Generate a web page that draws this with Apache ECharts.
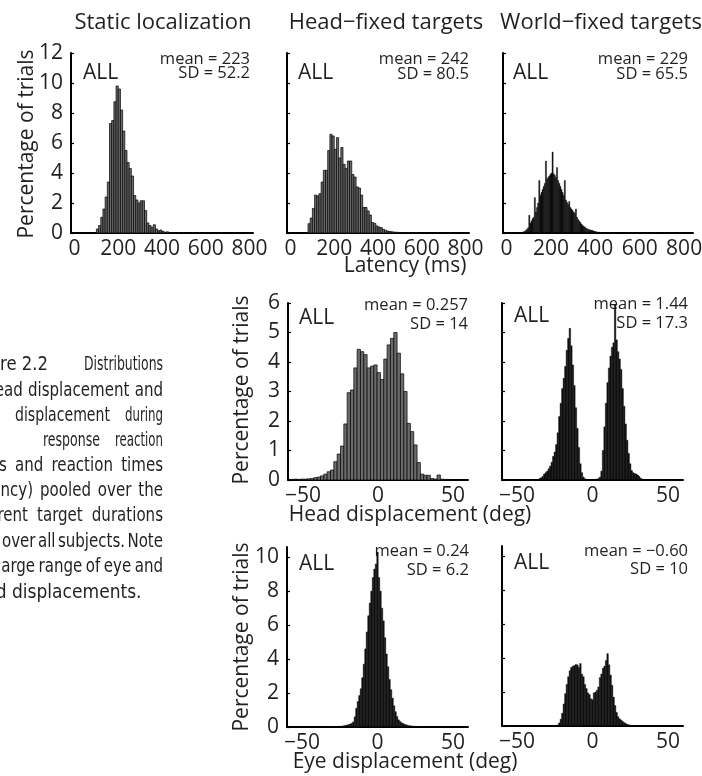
<!DOCTYPE html>
<html>
<head>
<meta charset="utf-8">
<script src="https://cdn.jsdelivr.net/npm/echarts@6/dist/echarts.min.js"></script>
<style>
  html, body { margin: 0; padding: 0; background: #fff; }
  #chart { width: 702px; height: 776px; }
</style>
</head>
<body>
<div id="chart"></div>
<script>
// ---------- tick values ----------
const latencyTicks = [0, 200, 400, 600, 800];
const displacementTicks = [-50, 0, 50];
const pctTicksTop = [0, 2, 4, 6, 8, 10, 12];
const pctTicksMid = [0, 1, 2, 3, 4, 5, 6];
const pctTicksBottom = [0, 2, 4, 6, 8, 10];

// ---------- histograms: percentage of trials per bin ----------
// Static localization, latency (ms), 10 ms bins, first bin centre 105 ms
const staticLatencyStart = 105, staticLatencyBin = 10;
const staticLatencyPct = [0.27, 0.5, 1.05, 1.6, 2.4, 3.4, 7.3, 7.5, 8.75, 9.8, 9.6, 8.2, 6.8, 5.5, 4.7, 4.3, 3.8, 2.5, 2.2, 2.0,
  2.15, 2.15, 1.5, 0.67, 0.5, 0.38, 0.55, 0.27, 0.15, 0.2, 0.1, 0.05, 0.08, 0.03, 0.02, 0.03, 0, 0.02, 0.01, 0.02,
  0, 0.01, 0, 0, 0.01, 0, 0, 0, 0, 0.03];

// Head-fixed targets, latency (ms), 10 ms bins, first bin centre 85 ms
const headFixedLatencyStart = 85, headFixedLatencyBin = 10;
const headFixedLatencyPct = [0.62, 1.0, 1.64, 2.53, 2.47, 2.62, 3.4, 4.18, 4.18, 5.5, 6.58, 6.47, 5.58, 6.36, 5.0, 5.7, 4.58, 4.3, 4.8, 4.8,
  3.9, 3.73, 3.07, 3.0, 2.53, 1.7, 1.7, 1.47, 1.2, 0.7, 0.64, 0.47, 0.4, 0.36, 0.24, 0.18, 0.13, 0.1, 0.08, 0.06,
  0.05, 0.04, 0.03, 0.03, 0.02, 0.02, 0.02, 0.01, 0.01, 0.02, 0.01, 0, 0.01];

// World-fixed targets, latency (ms), 5 ms bins, first bin centre 72.5 ms
const worldFixedLatencyStart = 72.5, worldFixedLatencyBin = 5;
const worldFixedLatencyPct = [0.05, 0.08, 0.12, 0.18, 0.25, 0.35, 1.18, 0.65, 0.8, 0.95, 1.05, 2.36, 1.4, 1.7, 2.0, 3.5, 2.5, 2.7, 2.9, 3.1,
  3.3, 4.8, 3.6, 3.7, 3.8, 3.9, 4.0, 5.4, 3.95, 3.85, 3.7, 4.36, 3.5, 3.3, 3.1, 2.9, 2.7, 2.5, 3.5, 2.2,
  2.05, 1.9, 2.1, 1.7, 1.6, 1.5, 1.4, 1.3, 1.6, 1.05, 0.9, 0.8, 0.7, 0.6, 0.5, 0.45, 0.4, 0.33, 0.28, 0.25,
  0.22, 0.2, 0.18, 0.16, 0.13, 0.11, 0.09, 0.07, 0.06, 0.05, 0.04, 0.03, 0.03, 0.02, 0.02];

// Head-fixed targets, head displacement (deg), 2.22 deg bins, first bin centre -57.2 deg
const headFixedHeadStart = -57.2, headFixedHeadBin = 2.22;
const headFixedHeadPct = [0.02, 0.03, 0.02, 0.03, 0.03, 0.04, 0.05, 0.08, 0.1, 0.14,
  0.2, 0.28, 0.34, 0.62, 0.88, 1.15, 1.9, 2.96, 3.05, 3.8, 4.43, 4.35, 4.25, 3.8, 3.86, 3.9, 3.64, 3.41, 4.1, 4.58,
  4.8, 5.0, 4.3, 3.6, 3.0, 1.92, 1.64, 1.19, 0.59, 0.2, 0.16, 0.16,
  0.05, 0.03, 0.17, 0.03, 0.02, 0.02];

// World-fixed targets, head displacement (deg), 1 deg bins, first bin centre -36 deg
const worldFixedHeadStart = -36, worldFixedHeadBin = 1;
const worldFixedHeadPct = [0.02, 0.05, 0.08, 0.12, 0.2, 0.25, 0.3, 0.38, 0.47, 0.6, 0.8, 0.95, 1.2, 1.6, 2.15, 2.6, 3.1, 3.45, 3.85, 4.4,
  4.8, 5.14, 4.55, 3.9, 3.2, 2.45, 1.75, 1.1, 0.55, 0.25, 0.1, 0.04, 0.02, 0.01, 0.02, 0.01, 0.02, 0.01, 0.02, 0.03,
  0.05, 0.1, 0.3, 1.0, 1.8, 2.6, 3.3, 3.8, 4.2, 4.5, 4.65, 5.93, 4.75, 4.35, 4.1, 3.75, 3.1, 2.5, 1.9, 1.35,
  0.9, 0.55, 0.32, 0.25, 0.22, 0.2, 0.17, 0.12, 0.06, 0.03, 0.02];

// Head-fixed targets, eye displacement (deg), 1 deg bins, first bin centre -30 deg
const headFixedEyeStart = -30, headFixedEyeBin = 1;
const headFixedEyePct = [0.02, 0.02, 0.03, 0.03, 0.04, 0.04, 0.05, 0.06, 0.08, 0.1, 0.12, 0.15, 0.18, 0.22, 0.3,
  0.6, 1.1, 1.5, 1.85, 2.25, 2.9, 3.7, 4.6, 5.6, 6.55, 7.3, 8.0, 8.8, 9.3, 9.6, 10.3, 8.8, 8.0, 7.0, 6.25,
  5.26, 4.3, 3.55, 2.8, 2.2, 1.7, 1.25, 0.9, 0.62, 0.42, 0.33, 0.25, 0.2,
  0.16, 0.13, 0.1, 0.08, 0.07, 0.06, 0.05, 0.04, 0.03, 0.03, 0.02, 0.02, 0.02];

// World-fixed targets, eye displacement (deg), 1 deg bins, first bin centre -26 deg
const worldFixedEyeStart = -26, worldFixedEyeBin = 1;
const worldFixedEyePct = [0.02, 0.03, 0.04, 0.06, 0.18, 0.4, 0.75, 1.3, 1.9, 2.45, 2.9, 3.25, 3.45, 3.52, 3.56, 3.62, 3.6, 3.45, 3.68, 3.05,
  2.9, 2.45, 2.2, 1.95, 1.85, 1.6, 1.55, 1.95, 2.0, 2.1, 2.3, 2.86, 3.06, 3.4, 3.52, 3.85, 4.26, 3.6, 3.0, 2.4,
  1.7, 1.2, 0.8, 0.55, 0.42, 0.35, 0.27, 0.2, 0.15, 0.1, 0.07, 0.05, 0.03, 0.02];

// ---------- texts ----------
const columnTitles = ['Static localization', 'Head\u2212fixed targets', 'World\u2212fixed targets'];
const yAxisTitle = 'Percentage of trials';
const xAxisTitles = ['Latency (ms)', 'Head displacement (deg)', 'Eye displacement (deg)'];
const poolLabel = 'ALL';
const statMeans = ['mean = 223', 'mean = 242', 'mean = 229', 'mean = 0.257', 'mean = 1.44', 'mean = 0.24', 'mean = \u22120.60'];
const statSDs = ['SD = 52.2', 'SD = 80.5', 'SD = 65.5', 'SD = 14', 'SD = 17.3', 'SD = 6.2', 'SD = 10'];
const captionLines = [
  ['Figure 2.2', 'Distributions'],
  ['head', 'displacement', 'and'],
  ['displacement', 'during'],
  ['response', 'reaction'],
  ['times', 'and', 'reaction', 'times'],
  ['(latency)', 'pooled', 'over', 'the'],
  ['different', 'target', 'durations'],
  ['and', 'over', 'all', 'subjects.', 'Note'],
  ['the', 'large', 'range', 'of', 'eye', 'and'],
  ['head', 'displacements.']
];

// ---------- styling & layout ----------
const FONT = '"Open Sans", "Noto Sans", sans-serif';
const CAPTION_FONT = '19px "Liberation Sans Narrow", "DejaVu Sans Condensed", "Liberation Sans", sans-serif';
const INK = '#231f20';
const GRAY_BARS = { fill: '#6b6b6b', stroke: '#000', lineWidth: 0.7 };
const DARK_BARS = { fill: '#141414', stroke: '#000', lineWidth: 0.4 };

const panels = [
  { box: { left: 71, top: 53, width: 182, height: 180 }, x: [-16, 816], xTicks: latencyTicks, y: [0, 12], yTicks: pctTicksTop, yLabels: true,
    start: staticLatencyStart, bin: staticLatencyBin, values: staticLatencyPct, bars: GRAY_BARS },
  { box: { left: 287, top: 53, width: 182, height: 180 }, x: [-16, 816], xTicks: latencyTicks, y: [0, 12], yTicks: pctTicksTop, yLabels: false,
    start: headFixedLatencyStart, bin: headFixedLatencyBin, values: headFixedLatencyPct, bars: GRAY_BARS },
  { box: { left: 503, top: 53, width: 190, height: 180 }, x: [-16, 840], xTicks: latencyTicks, y: [0, 12], yTicks: pctTicksTop, yLabels: false,
    start: worldFixedLatencyStart, bin: worldFixedLatencyBin, values: worldFixedLatencyPct, bars: DARK_BARS },
  { box: { left: 288, top: 303, width: 180, height: 177 }, x: [-60, 60], xTicks: displacementTicks, y: [0, 6], yTicks: pctTicksMid, yLabels: true,
    start: headFixedHeadStart, bin: headFixedHeadBin, values: headFixedHeadPct, bars: GRAY_BARS },
  { box: { left: 502, top: 303, width: 181, height: 177 }, x: [-60, 60], xTicks: displacementTicks, y: [0, 6], yTicks: pctTicksMid, yLabels: false,
    start: worldFixedHeadStart, bin: worldFixedHeadBin, values: worldFixedHeadPct, bars: DARK_BARS },
  { box: { left: 287, top: 547, width: 181, height: 180 }, x: [-60, 60], xTicks: displacementTicks, y: [0, 10.6], yTicks: pctTicksBottom, yLabels: true,
    start: headFixedEyeStart, bin: headFixedEyeBin, values: headFixedEyePct, bars: DARK_BARS },
  { box: { left: 502, top: 546, width: 181, height: 180 }, x: [-60, 60], xTicks: displacementTicks, y: [0, 10.6], yTicks: pctTicksBottom, yLabels: false,
    start: worldFixedEyeStart, bin: worldFixedEyeBin, values: worldFixedEyePct, bars: DARK_BARS }
];

const minusSign = v => String(v).replace('-', '\u2212');

const grids = panels.map(p => Object.assign({ containLabel: false, outerBoundsMode: 'none' }, p.box));

const xAxes = panels.map((p, i) => ({
  type: 'value', gridIndex: i, min: p.x[0], max: p.x[1],
  axisLine: { show: true, onZero: false, lineStyle: { color: '#000', width: 2 } },
  axisTick: { show: false },
  splitLine: { show: false },
  axisLabel: {
    show: true, customValues: p.xTicks, color: INK, fontSize: 21, fontFamily: FONT, margin: 6,
    showMinLabel: true, showMaxLabel: true, hideOverlap: false, formatter: minusSign
  }
}));

const yAxes = panels.map((p, i) => ({
  type: 'value', gridIndex: i, min: p.y[0], max: p.y[1],
  axisLine: { show: true, onZero: false, lineStyle: { color: '#000', width: 2 } },
  axisTick: { show: true, inside: true, length: 3, customValues: p.yTicks, lineStyle: { color: '#000', width: 1.2 } },
  splitLine: { show: false },
  axisLabel: {
    show: p.yLabels, customValues: p.yTicks, color: INK, fontSize: 21, fontFamily: FONT, margin: 8,
    showMinLabel: true, showMaxLabel: true, hideOverlap: false
  }
}));

// one rectangle per histogram bin, edges placed through the axis scales
const series = panels.map((p, i) => ({
  type: 'custom', xAxisIndex: i, yAxisIndex: i, clip: true, silent: true,
  data: p.values.map((v, k) => [p.start + k * p.bin, v]),
  encode: { x: 0, y: 1 },
  renderItem(params, api) {
    const c = api.value(0), v = api.value(1);
    if (!(v > 0)) return null;
    const tl = api.coord([c - p.bin / 2, v]);
    const br = api.coord([c + p.bin / 2, 0]);
    return {
      type: 'rect',
      shape: { x: tl[0], y: tl[1], width: br[0] - tl[0], height: br[1] - tl[1] },
      style: { fill: p.bars.fill, stroke: p.bars.stroke, lineWidth: p.bars.lineWidth }
    };
  }
}));

function label(x, y, text, size, align, extra) {
  return Object.assign({
    type: 'text', x: x, y: y, silent: true,
    style: { text: text, fill: INK, font: size + 'px ' + FONT, align: align, verticalAlign: 'middle' }
  }, extra || {});
}

const graphics = [];
// column titles
[[163, 23], [386, 23], [601, 23]].forEach((pos, i) => graphics.push(label(pos[0], pos[1], columnTitles[i], 22, 'center')));
// y-axis titles (rotated)
[[27, 144], [242, 390], [242, 637]].forEach(pos => graphics.push(label(pos[0], pos[1], yAxisTitle, 21, 'center', { rotation: Math.PI / 2 })));
// x-axis titles
[[405, 266], [410, 515], [405, 762]].forEach((pos, i) => graphics.push(label(pos[0], pos[1], xAxisTitles[i], 21, 'center')));
// pooled-subject tags
[[83, 73], [298, 73], [513, 73], [299, 318], [514, 316], [299, 564], [514, 563]].forEach(pos =>
  graphics.push(label(pos[0], pos[1], poolLabel, 21, 'left')));
// summary statistics
[[250, 59, 73], [469, 59, 74], [688, 59, 74], [468, 305, 324], [688, 304, 323], [469, 551, 570], [688, 551, 569]].forEach((pos, i) => {
  graphics.push(label(pos[0], pos[1], statMeans[i], 16.5, 'right'));
  graphics.push(label(pos[0], pos[2], statSDs[i], 16.5, 'right'));
});

// ---------- figure caption: narrow justified column, right edge x = 163 ----------
const measureCtx = document.createElement('canvas').getContext('2d');
measureCtx.font = CAPTION_FONT;
const rawWidth = t => measureCtx.measureText(t).width;
const CAPTION_RIGHT = 163;
const WORD_GAP = 9;
const captionY = [365, 391.5, 416.5, 441.5, 466.5, 491.5, 516.5, 542.5, 567.5, 593];
// where the second word of each line begins (the first may run off the left edge)
const captionSecondWord = [84, 28, 125, 115, 15, 40, 37, 2, -3, 12];
// lines whose two words sit apart: [anchor x, align, set width, text measured for that width]
const captionPairs = {
  0: [[48, 'right', 48, 're 2.2'], [CAPTION_RIGHT, 'right', 79, 'Distributions']],
  2: [[15, 'left', 95, 'displacement'], [CAPTION_RIGHT, 'right', 38, 'during']],
  3: [[43, 'left', 57, 'response'], [CAPTION_RIGHT, 'right', 48, 'reaction']]
};

function captionPiece(x, y, text, align, squeeze) {
  return {
    type: 'text', x: x, y: y, scaleX: squeeze, silent: true,
    style: { text: text, fill: INK, font: CAPTION_FONT, align: align, verticalAlign: 'middle' }
  };
}

captionLines.forEach((words, i) => {
  const y = captionY[i];
  const pair = captionPairs[i];
  if (pair) {
    // each word is fitted to the width it occupies in the printed column
    pair.forEach((spec, k) => {
      graphics.push(captionPiece(spec[0], y, words[k], spec[1], spec[2] / rawWidth(spec[3])));
    });
    return;
  }
  const start = captionSecondWord[i];
  const rest = words.slice(1);
  const lastLine = i === captionLines.length - 1;
  const rawTotal = rest.reduce((a, t) => a + rawWidth(t), 0);
  // a justified line is fitted between its second word and the right edge
  let squeeze = lastLine ? 1.0 : (CAPTION_RIGHT - start - WORD_GAP * (rest.length - 1)) / rawTotal;
  squeeze = Math.min(1.15, Math.max(0.88, squeeze));
  const gap = lastLine ? rawWidth(' ') * squeeze
    : (CAPTION_RIGHT - start - rawTotal * squeeze) / Math.max(1, rest.length - 1);
  let x = start;
  rest.forEach(t => {
    graphics.push(captionPiece(x, y, t, 'left', squeeze));
    x += rawWidth(t) * squeeze + gap;
  });
  graphics.push(captionPiece(start - gap, y, words[0], 'right', squeeze));
});

const chart = echarts.init(document.getElementById('chart'), null, { renderer: 'canvas', width: 702, height: 776 });
chart.setOption({
  animation: false,
  backgroundColor: '#fff',
  grid: grids,
  xAxis: xAxes,
  yAxis: yAxes,
  series: series,
  graphic: { elements: graphics }
});
</script>
</body>
</html>
